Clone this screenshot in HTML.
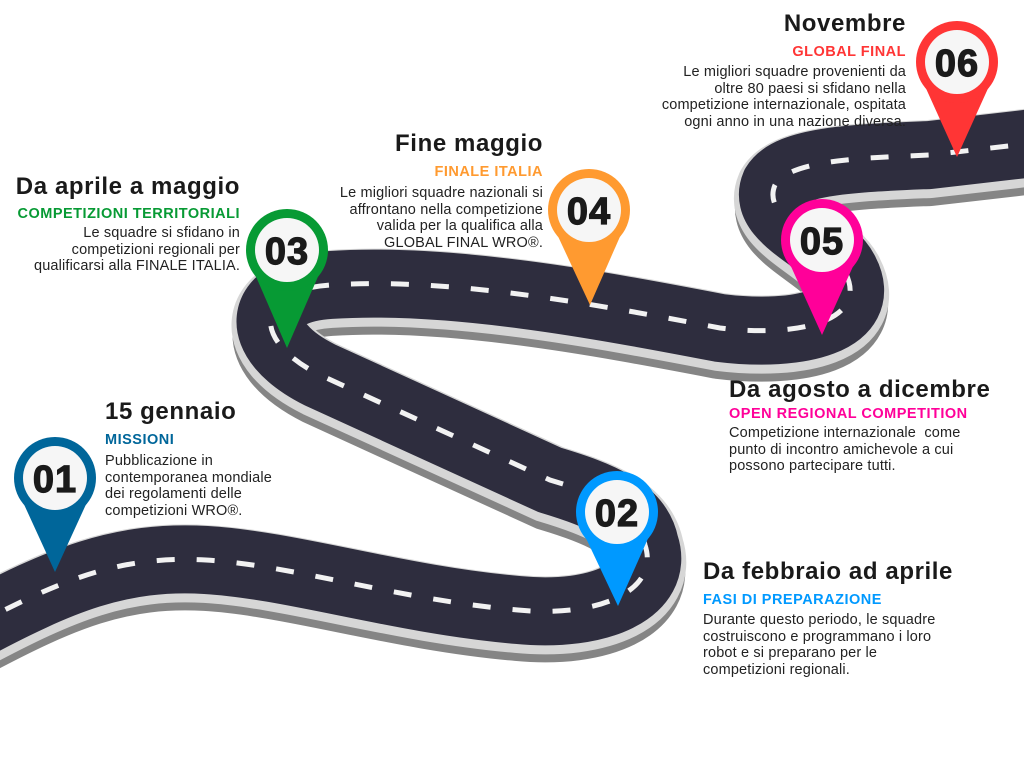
<!DOCTYPE html>
<html><head><meta charset="utf-8"><style>
body{margin:0;width:1024px;height:768px;background:#fff;position:relative;overflow:hidden;font-family:"Liberation Sans",sans-serif;color:#222}
.t{position:absolute;font-weight:bold;font-size:24px;letter-spacing:0.6px;color:#1a1a1a;white-space:nowrap}
.s{position:absolute;font-weight:bold;font-size:14.5px;letter-spacing:0.5px;white-space:nowrap}
.b{position:absolute;font-size:14.5px;line-height:16.5px;white-space:nowrap;color:#222;letter-spacing:0.15px}
.r{text-align:right}
</style></head><body>
<svg width="1024" height="768" style="position:absolute;left:0;top:0">
<defs>
<path id="road" d="M -30 628 C 60 580, 120 555, 206 560 S 400 600, 518 610 C 600 618, 660 590, 645 545 C 638 510, 600 495, 550 480 L 320 375 C 250 340, 255 290, 330 285 C 450 277, 600 305, 720 328 C 800 338, 870 320, 845 272 C 830 240, 760 220, 775 185 C 790 160, 860 158, 930 155 L 1060 140" fill="none"/>
</defs>
<use href="#road" stroke="#858585" stroke-width="76" transform="translate(0,13)"/>
<use href="#road" stroke="#d6d6d6" stroke-width="78" transform="translate(0,4)"/>
<use href="#road" stroke="#2e2d3e" stroke-width="68"/>
<use href="#road" stroke="#f2f2f2" stroke-width="5" stroke-dasharray="18 22"/>
<g>
<g transform="translate(55,478)"><path d="M-33 22 L0 94 L33 22 Z" fill="#00669a"/><circle r="41" fill="#00669a"/><circle r="32" fill="#f6f6f6"/></g>
<g transform="translate(617,512)"><path d="M-33 22 L1 94 L33 22 Z" fill="#0099ff"/><circle r="41" fill="#0099ff"/><circle r="32" fill="#f6f6f6"/></g>
<g transform="translate(287,250)"><path d="M-33 22 L0 98 L33 22 Z" fill="#079a34"/><circle r="41" fill="#079a34"/><circle r="32" fill="#f6f6f6"/></g>
<g transform="translate(589,210)"><path d="M-33 22 L1 95 L33 22 Z" fill="#ff9a30"/><circle r="41" fill="#ff9a30"/><circle r="32" fill="#f6f6f6"/></g>
<g transform="translate(822,240)"><path d="M-33 22 L0 95 L33 22 Z" fill="#ff0099"/><circle r="41" fill="#ff0099"/><circle r="32" fill="#f6f6f6"/></g>
<g transform="translate(957,62)"><path d="M-33 22 L0 95 L33 22 Z" fill="#ff3535"/><circle r="41" fill="#ff3535"/><circle r="32" fill="#f6f6f6"/></g>
</g>
<g font-family="Liberation Sans" font-weight="bold" font-size="38" fill="#1a1a1a" text-anchor="middle" stroke="#1a1a1a" stroke-width="1.2" letter-spacing="1">
<text x="55" y="492">01</text><text x="617" y="526">02</text><text x="287" y="264">03</text>
<text x="589" y="224">04</text><text x="822" y="254">05</text><text x="957" y="76">06</text>
</g>
</svg>

<div class="t r" style="right:118px;top:10px">Novembre</div>
<div class="s r" style="right:118px;top:44px;color:#ff3535">GLOBAL FINAL</div>
<div class="b r" style="right:118px;top:64px">Le migliori squadre provenienti da<br>oltre 80 paesi si sfidano nella<br>competizione internazionale, ospitata<br>ogni anno in una nazione diversa.</div>

<div class="t r" style="right:481px;top:130px">Fine maggio</div>
<div class="s r" style="right:481px;top:164px;color:#ff9a30">FINALE ITALIA</div>
<div class="b r" style="right:481px;top:185px">Le migliori squadre nazionali si<br>affrontano nella competizione<br>valida per la qualifica alla<br>GLOBAL FINAL WRO®.</div>

<div class="t r" style="right:784px;top:173px">Da aprile a maggio</div>
<div class="s r" style="right:784px;top:206px;color:#079a34">COMPETIZIONI TERRITORIALI</div>
<div class="b r" style="right:784px;top:225px">Le squadre si sfidano in<br>competizioni regionali per<br>qualificarsi alla FINALE ITALIA.</div>

<div class="t" style="left:105px;top:398px">15 gennaio</div>
<div class="s" style="left:105px;top:432px;color:#00669a">MISSIONI</div>
<div class="b" style="left:105px;top:453px">Pubblicazione in<br>contemporanea mondiale<br>dei regolamenti delle<br>competizioni WRO®.</div>

<div class="t" style="left:729px;top:376px">Da agosto a dicembre</div>
<div class="s" style="left:729px;top:406px;color:#ff0099">OPEN REGIONAL COMPETITION</div>
<div class="b" style="left:729px;top:425px">Competizione internazionale &nbsp;come<br>punto di incontro amichevole a cui<br>possono partecipare tutti.</div>

<div class="t" style="left:703px;top:558px">Da febbraio ad aprile</div>
<div class="s" style="left:703px;top:592px;color:#0099ff">FASI DI PREPARAZIONE</div>
<div class="b" style="left:703px;top:612px">Durante questo periodo, le squadre<br>costruiscono e programmano i loro<br>robot e si preparano per le<br>competizioni regionali.</div>
</body></html>
